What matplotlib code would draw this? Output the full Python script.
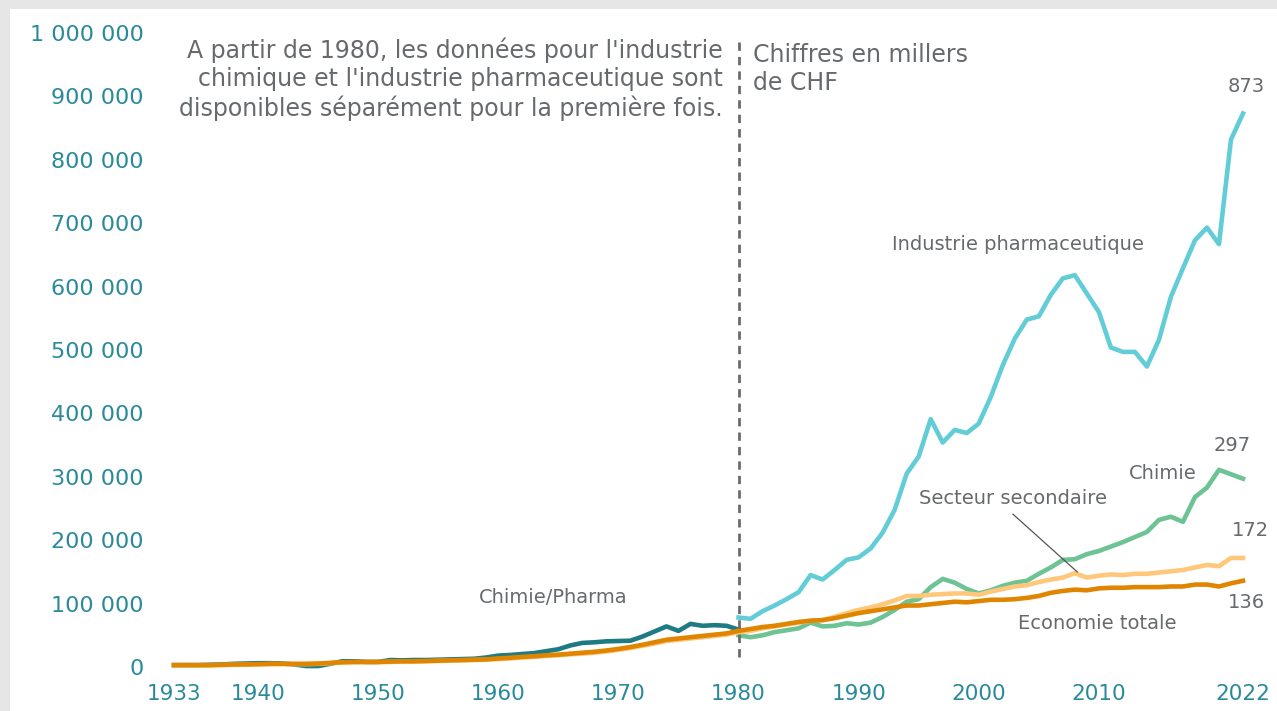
import numpy as np
import matplotlib.pyplot as plt
from matplotlib.patches import Rectangle
from matplotlib.ticker import FuncFormatter

plt.rcParams['font.family'] = ['DejaVu Sans']

# donnees (milliers de CHF)
annees_avant = list(range(1933, 1981))
annees_apres = list(range(1980, 2023))

chimie_pharma = [3, 3, 3, 3.5, 4, 5, 5.5, 6, 6, 5.5, 4, 1.5, 1.5, 5, 9, 9, 8, 8,
                 11, 10.5, 11, 11, 11.5, 12, 12.5, 13, 15, 18, 19, 20.5, 22, 25, 28,
                 34, 38, 39, 40.5, 41, 41.5, 48, 56, 64, 57, 68, 65, 66, 65, 59]

eco_avant = [3, 3, 3, 3, 3.5, 4, 4, 4.5, 5, 5, 5, 5, 5.5, 6.5, 7.5, 8, 8, 8,
             8.5, 9, 9, 9.5, 10, 10.5, 11, 11.5, 12, 13.5, 14.5, 16, 17, 18.5, 19.5,
             21, 22.5, 24, 26, 28.5, 31.5, 35, 39, 43, 45, 47, 49, 51, 53, 57]

sec_avant = [2.5, 2.5, 2.5, 2.5, 3, 3.5, 3.5, 4, 4.5, 4.5, 4.5, 4.5, 5, 6, 7, 7.5, 7.5, 7.5,
             8, 8.5, 8.5, 9, 9.5, 10, 10.5, 11, 11.5, 12.5, 13.5, 15, 16, 17.5, 18.5,
             20, 21, 22.5, 24.5, 27, 30, 33.5, 37, 41, 43, 45, 47, 49, 51, 55]

pharma = [78, 76, 88, 97, 107, 118, 145, 138, 153, 169, 173, 187, 212, 248, 305, 332,
          391, 354, 374, 369, 384, 426, 476, 518, 548, 553, 587, 613, 618, 589, 560,
          504, 497, 497, 474, 516, 584, 629, 673, 693, 667, 832, 873]

chimie = [50, 47, 50, 55, 58, 61, 70, 64, 65, 69, 67, 70, 79, 90, 103, 107, 126, 139,
          133, 123, 116, 121, 128, 133, 136, 147, 157, 169, 170, 178, 183, 190, 197,
          205, 213, 232, 237, 229, 268, 283, 311, 304, 297]

sec_apres = [55, 57, 61, 64, 67, 70, 73, 74, 79, 85, 90, 94, 99, 105, 112, 112, 114,
             115, 116, 116, 114, 119, 123, 127, 129, 134, 138, 141, 148, 141, 144, 146,
             145, 147, 147, 149, 151, 153, 157, 161, 159, 172, 172]

eco_apres = [57, 60, 63, 65, 68, 71, 73, 74, 77, 81, 85, 88, 91, 94, 97, 97, 99, 101,
             103, 102, 104, 106, 106, 107, 109, 112, 117, 120, 122, 121, 124, 125, 125,
             126, 126, 126, 127, 127, 130, 130, 127, 132, 136]

# couleurs
c_cp = '#1e7b84'
c_pharma = '#62cdd6'
c_chimie = '#6dc393'
c_sec = '#ffc77a'
c_eco = '#e08500'
c_txt = '#676a6d'
c_tick = '#2a8a99'

fig = plt.figure(figsize=(12.77, 7.11), dpi=100, facecolor='white')
# bordure grise en haut et a gauche
fig.patches.append(Rectangle((0, 702/711), 1, 9/711, transform=fig.transFigure,
                             facecolor='#e6e6e6', edgecolor='none', zorder=-10))
fig.patches.append(Rectangle((0, 0), 10/1277, 1, transform=fig.transFigure,
                             facecolor='#e6e6e6', edgecolor='none', zorder=-10))

ax = fig.add_axes([174/1277, 44/711, 1069/1277, 634/711])
ax.set_facecolor('none')

lw = 3.3
k = 1000
ax.plot(annees_apres, np.array(pharma)*k, color=c_pharma, lw=lw, clip_on=False)
ax.plot(annees_apres, np.array(chimie)*k, color=c_chimie, lw=lw, clip_on=False)
ax.plot(annees_avant, np.array(chimie_pharma)*k, color=c_cp, lw=lw, clip_on=False)
ax.plot(annees_avant, np.array(sec_avant)*k, color=c_sec, lw=lw, clip_on=False)
ax.plot(annees_apres, np.array(sec_apres)*k, color=c_sec, lw=lw, clip_on=False)
ax.plot(annees_avant, np.array(eco_avant)*k, color=c_eco, lw=lw, clip_on=False)
ax.plot(annees_apres, np.array(eco_apres)*k, color=c_eco, lw=lw, clip_on=False)

ax.plot([1980, 1980], [15000, 992000], color='#6b6b6b', lw=2, ls=(0, (3, 2.2)))

ax.set_xlim(1933, 2022)
ax.set_ylim(0, 1000000)
ax.set_xticks([1933, 1940, 1950, 1960, 1970, 1980, 1990, 2000, 2010, 2022])
ax.set_yticks(np.arange(0, 1000001, 100000))
ax.yaxis.set_major_formatter(FuncFormatter(lambda v, p: f'{int(v):,}'.replace(',', ' ')))
ax.tick_params(length=0, labelsize=15.5, colors=c_tick)
ax.tick_params(axis='y', pad=22, labelsize=16)
ax.tick_params(axis='x', pad=12)
for s in ax.spines.values():
    s.set_visible(False)

# textes
ax.text(1978.7, 927000, "A partir de 1980, les données pour l'industrie\n"
        "chimique et l'industrie pharmaceutique sont\n"
        "disponibles séparément pour la première fois.",
        ha='right', va='center', multialignment='right', fontsize=17,
        color=c_txt, linespacing=1.22)
ax.text(1981.2, 985000, "Chiffres en millers\nde CHF", ha='left', va='top',
        fontsize=17, color=c_txt, linespacing=1.22)

fs = 14
ax.text(2022.3, 915000, "873", ha='center', va='center', fontsize=fs, color=c_txt)
ax.text(2021.1, 350000, "297", ha='center', va='center', fontsize=fs, color=c_txt)
ax.text(2022.6, 216000, "172", ha='center', va='center', fontsize=fs, color=c_txt)
ax.text(2022.3, 102000, "136", ha='center', va='center', fontsize=fs, color=c_txt)
ax.text(2003.3, 666000, "Industrie pharmaceutique", ha='center', va='center',
        fontsize=fs, color=c_txt)
ax.text(2015.35, 305000, "Chimie", ha='center', va='center', fontsize=fs, color=c_txt)
ax.text(2002.85, 265000, "Secteur secondaire", ha='center', va='center',
        fontsize=fs, color=c_txt)
ax.plot([2002.85, 2008.2], [241000, 150000], color='#555555', lw=0.9)
ax.text(2009.85, 69000, "Economie totale", ha='center', va='center',
        fontsize=fs, color=c_txt)
ax.text(1964.6, 110000, "Chimie/Pharma", ha='center', va='center',
        fontsize=fs, color=c_txt)

plt.savefig('out.png', dpi=100, facecolor=fig.get_facecolor())
